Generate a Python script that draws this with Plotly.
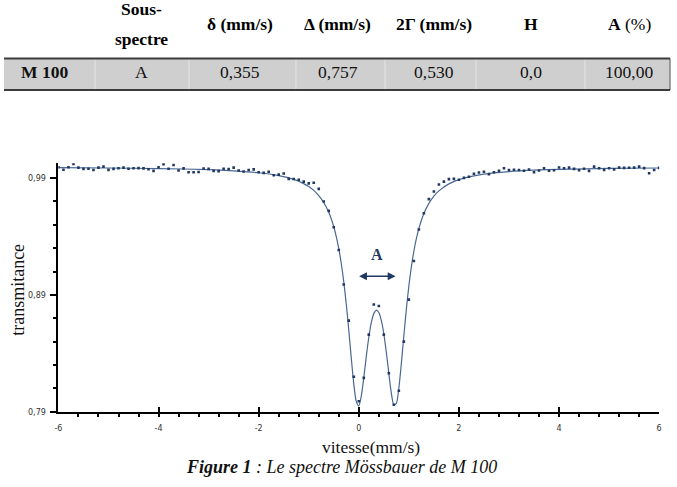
import plotly.graph_objects as go

# ---------------- data ----------------
delta = 0.355      # δ (mm/s)
quad = 0.757       # Δ (mm/s)
gamma2 = 0.530     # 2Γ (mm/s)
hyper = 0.0        # H
area = 100.00      # A (%)

vel = [-6.0, -5.9, -5.8, -5.7, -5.6, -5.5, -5.4, -5.3, -5.2, -5.1,
       -5.0, -4.9, -4.8, -4.7, -4.6, -4.5, -4.4, -4.3, -4.2, -4.1,
       -4.0, -3.9, -3.8, -3.7, -3.6, -3.5, -3.4, -3.3, -3.2, -3.1,
       -3.0, -2.9, -2.8, -2.7, -2.6, -2.5, -2.4, -2.3, -2.2, -2.1,
       -2.0, -1.9, -1.8, -1.7, -1.6, -1.5, -1.4, -1.3, -1.2, -1.1,
       -1.0, -0.9, -0.8, -0.7, -0.6, -0.5, -0.4, -0.3, -0.2, -0.1,
       0.0, 0.1, 0.2, 0.3, 0.4, 0.5, 0.6, 0.7, 0.8, 0.9,
       1.0, 1.1, 1.2, 1.3, 1.4, 1.5, 1.6, 1.7, 1.8, 1.9,
       2.0, 2.1, 2.2, 2.3, 2.4, 2.5, 2.6, 2.7, 2.8, 2.9,
       3.0, 3.1, 3.2, 3.3, 3.4, 3.5, 3.6, 3.7, 3.8, 3.9,
       4.0, 4.1, 4.2, 4.3, 4.4, 4.5, 4.6, 4.7, 4.8, 4.9,
       5.0, 5.1, 5.2, 5.3, 5.4, 5.5, 5.6, 5.7, 5.8, 5.9, 6.0]

trans = [0.9993, 0.9972, 0.9993, 1.0021, 0.9990, 0.9979, 0.9981, 0.9970, 0.9990, 0.9999,
         0.9971, 0.9979, 0.9985, 0.9990, 0.9981, 0.9985, 0.9986, 0.9984, 0.9976, 0.9962,
         0.9993, 1.0019, 0.9980, 1.0013, 0.9965, 0.9984, 0.9951, 0.9950, 0.9952, 0.9983,
         0.9979, 0.9962, 0.9960, 0.9980, 0.9978, 0.9990, 0.9966, 0.9957, 0.9970, 0.9975,
         0.9950, 0.9945, 0.9955, 0.9925, 0.9930, 0.9940, 0.9894, 0.9893, 0.9886, 0.9870,
         0.9855, 0.9860, 0.9808, 0.9700, 0.9620, 0.9480, 0.9285, 0.8990, 0.8680, 0.8200,
         0.7990, 0.8190, 0.8560, 0.8818, 0.8805, 0.8560, 0.8230, 0.7960, 0.8080, 0.8500,
         0.8860, 0.9190, 0.9460, 0.9600, 0.9720, 0.9785, 0.9845, 0.9870, 0.9892, 0.9894,
         0.9886, 0.9902, 0.9912, 0.9938, 0.9948, 0.9955, 0.9934, 0.9950, 0.9962, 0.9985,
         0.9970, 0.9972, 0.9970, 0.9963, 0.9974, 0.9950, 0.9966, 0.9985, 0.9963, 0.9968,
         0.9991, 0.9985, 0.9990, 0.9979, 0.9968, 0.9980, 0.9962, 0.9999, 0.9985, 0.9971,
         0.9985, 0.9975, 0.9990, 0.9988, 0.9989, 0.9990, 0.9999, 0.9986, 0.9942, 0.9970, 0.9988]

fit_x = [-6, -5, -4, -3, -2.5, -2, -1.6, -1.3, -1.1, -1.0, -0.9, -0.8, -0.7, -0.6,
         -0.5, -0.45, -0.4, -0.35, -0.3, -0.25, -0.2, -0.15, -0.1, -0.05, 0, 0.05,
         0.1, 0.15, 0.2, 0.25, 0.3, 0.355, 0.4, 0.45, 0.5, 0.55, 0.6, 0.65, 0.7, 0.75,
         0.8, 0.85, 0.9, 0.95, 1.0, 1.05, 1.1, 1.15, 1.2, 1.3, 1.4, 1.5, 1.6, 1.8,
         2.1, 2.5, 3, 3.5, 4, 5, 6]
fit_y = [0.9990, 0.9987, 0.9982, 0.9973, 0.9962, 0.9946, 0.9921, 0.9889, 0.9853, 0.9828,
         0.9795, 0.9751, 0.9691, 0.9607, 0.9484, 0.9400, 0.9297, 0.9169, 0.9012, 0.8820,
         0.8598, 0.8359, 0.8139, 0.7988, 0.7951, 0.8033, 0.8192, 0.8374, 0.8538, 0.8663,
         0.8740, 0.8770, 0.8750, 0.8682, 0.8567, 0.8409, 0.8228, 0.8060, 0.7959, 0.7971,
         0.8101, 0.8312, 0.8551, 0.8778, 0.8976, 0.9140, 0.9274, 0.9382, 0.9468, 0.9597,
         0.9684, 0.9746, 0.9791, 0.9851, 0.9900, 0.9935, 0.9956, 0.9968, 0.9975, 0.9983,
         0.9987]

x_tick_vals = [-6, -4, -2, 0, 2, 4, 6]
x_tick_text = ["-6", "-4", "-2", "0", "2", "4", "6"]

table_headers = ["", "Sous-\nspectre", "δ (mm/s)", "Δ (mm/s)", "2Γ (mm/s)", "H", "A|(%)"]
row_label = "M 100"
row_sub = "A"


def fr(v, n):
    return f"{v:.{n}f}".replace(".", ",")


row_values = [row_label, row_sub, fr(delta, 3), fr(quad, 3), fr(gamma2, 3), fr(hyper, 1), fr(area, 2)]

# ---------------- layout helpers ----------------
W, H = 677, 487


def px(x):
    return x / W


def py(y):
    return 1 - y / H


NAVY = "#1f3763"
LINE = "#4a6792"
SERIF = "Liberation Serif"

fig = go.Figure()
fig.add_trace(go.Scatter(x=fit_x, y=fit_y, mode="lines",
                         line=dict(color=LINE, width=1.2, shape="spline", smoothing=0.7),
                         hoverinfo="skip", showlegend=False))
fig.add_trace(go.Scatter(x=vel, y=trans, mode="markers",
                         marker=dict(color=NAVY, size=2.6, symbol="square"),
                         showlegend=False))

annotations = []
shapes = []


def ptxt(x, y, text, font, **kw):
    d = dict(x=px(x), y=py(y), xref="paper", yref="paper", text=text, showarrow=False,
             xanchor="center", yanchor="middle", font=font)
    d.update(kw)
    annotations.append(d)


# arrow for doublet splitting
arrow_y = 0.906
annotations.append(dict(x=delta + quad / 2, y=arrow_y, ax=delta - quad / 2, ay=arrow_y,
                        xref="x", yref="y", axref="x", ayref="y", text="", showarrow=True,
                        arrowside="end+start", arrowhead=2, arrowsize=1.2, arrowwidth=1.3,
                        arrowcolor=NAVY))
annotations.append(dict(x=delta, y=0.9245, xref="x", yref="y", text="<b>A</b>", showarrow=False,
                        xanchor="center", yanchor="middle",
                        font=dict(family=SERIF, size=16, color=NAVY)))

# axis titles
ptxt(14, 293, "transmitance", dict(family=SERIF, size=18, color="#111"), textangle=-90)
ptxt(371, 452, "vitesse(mm/s)", dict(family=SERIF, size=17.5, color="#111"))
ptxt(341, 472, "<b><i>Figure 1</i></b><i> : Le spectre Mössbauer de M 100</i>",
     dict(family=SERIF, size=18, color="#111"))

# table
col_cx = [41, 139, 238, 337, 434, 533, 632]
hfont = dict(family=SERIF, size=17.5, color="#000")
for cx, h in zip(col_cx, table_headers):
    if not h:
        continue
    if "\n" in h:
        for ln, yy in zip(h.split("\n"), [9, 39]):
            ptxt(cx, yy, f"<b>{ln}</b>", hfont)
    else:
        if "|" in h:
            a, b = h.split("|")
            txt = f"<b>{a}</b> {b}"
        else:
            txt = f"<b>{h}</b>"
        ptxt(cx, 24, txt, hfont)
for i, (cx, v) in enumerate(zip(col_cx, row_values)):
    txt = f"<b>{v}</b>" if i == 0 else v
    ptxt(cx, 73, txt, dict(family=SERIF, size=17.5, color="#111"))

shapes.append(dict(type="rect", xref="paper", yref="paper", x0=0, x1=px(673),
                   y0=py(91), y1=py(59), fillcolor="#cfcfcf", line=dict(width=0), layer="below"))
for sx in [92, 187, 295, 385, 477, 587]:
    shapes.append(dict(type="line", xref="paper", yref="paper", x0=px(sx), x1=px(sx),
                       y0=py(91), y1=py(59), line=dict(color="#e4e4e4", width=1), layer="below"))
shapes.append(dict(type="line", xref="paper", yref="paper", x0=px(673), x1=px(673),
                   y0=py(91), y1=py(59), line=dict(color="#555", width=1), layer="below"))
for yy in [59, 91]:
    shapes.append(dict(type="line", xref="paper", yref="paper", x0=0, x1=px(673),
                       y0=py(yy), y1=py(yy), line=dict(color="#3c3c3c", width=2)))

fig.update_layout(
    width=W, height=H, margin=dict(l=0, r=0, t=0, b=0),
    paper_bgcolor="white", plot_bgcolor="white",
    separators=",.",
    annotations=annotations, shapes=shapes,
    xaxis=dict(domain=[px(55), px(662)], range=[-6, 6], showgrid=False, zeroline=False,
               showline=True, linecolor="#000", linewidth=2,
               tickmode="array", tickvals=x_tick_vals, ticktext=x_tick_text,
               ticks="inside", ticklen=5, tickwidth=1.5, tickcolor="#000",
               minor=dict(tickmode="linear", tick0=-6, dtick=0.4, ticks="outside",
                          ticklen=3, tickwidth=1.5, tickcolor="#000"),
               ticklabelstandoff=8,
               tickfont=dict(family="DejaVu Sans", size=8, color="#333")),
    yaxis=dict(domain=[1 - 416 / H, 1 - 165 / H], range=[0.79, 1.0027], showgrid=False,
               zeroline=False, showline=True, linecolor="#000", linewidth=2,
               tickmode="linear", tick0=0.79, dtick=0.1, tickformat=".2f",
               ticks="outside", ticklen=6, tickwidth=1.5, tickcolor="#000",
               minor=dict(tickmode="linear", tick0=0.79, dtick=0.02, ticks="outside",
                          ticklen=3, tickwidth=1.5, tickcolor="#000"),
               ticklabelstandoff=3,
               tickfont=dict(family="DejaVu Sans", size=8, color="#333")),
)

fig.write_html("out.html")
